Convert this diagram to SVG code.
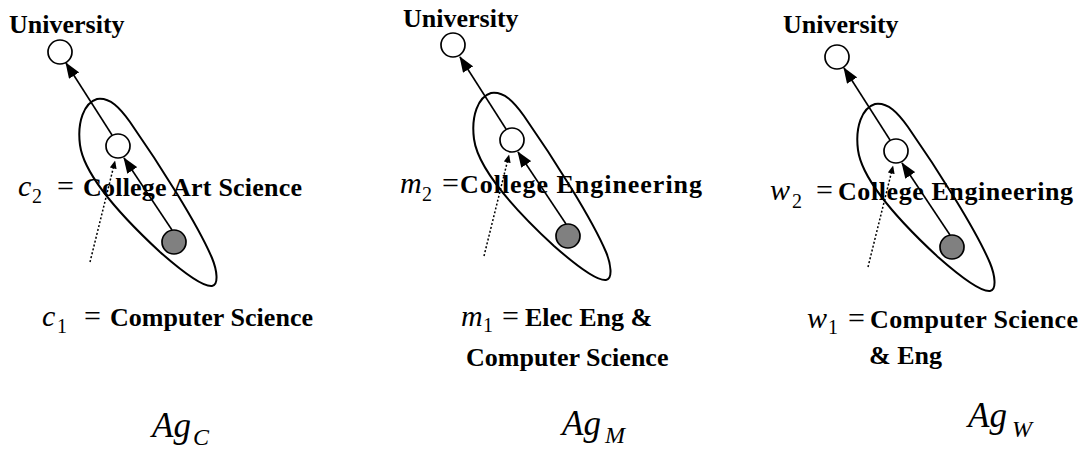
<svg xmlns="http://www.w3.org/2000/svg" xmlns:xlink="http://www.w3.org/1999/xlink" width="1088" height="453" viewBox="0 0 1088 453">
<style>
.node{fill:#fff;stroke:#000;stroke-width:1.7}
.leaf{fill:#808080;stroke:#000;stroke-width:1.7}
.loop{fill:none;stroke:#000;stroke-width:2}
.edge{stroke:#000;stroke-width:1.6;fill:none}
.dot{stroke:#000;stroke-width:1.5;stroke-dasharray:2 2;fill:none}
.lbl{font-family:"Liberation Serif","Times New Roman",serif;font-weight:bold;font-size:26px;fill:#000}
.math{font-family:"Liberation Serif","Times New Roman",serif;font-style:italic;font-size:30px;fill:#000}
.sub{font-family:"Liberation Serif","Times New Roman",serif;font-size:20px;fill:#000}
.eq{font-family:"Liberation Serif","Times New Roman",serif;font-size:30px;fill:#000}
.ag{font-family:"Liberation Serif","Times New Roman",serif;font-style:italic;font-size:35px;fill:#000}
.agsub{font-family:"Liberation Serif","Times New Roman",serif;font-style:italic;font-size:24px;fill:#000}
</style>
<defs>
<marker id="ah" markerUnits="userSpaceOnUse" markerWidth="16" markerHeight="12" viewBox="0 0 16 12" refX="15" refY="6" orient="auto"><path d="M0,0 L16,6 L0,12 z" fill="#000"/></marker>
<marker id="ahs" markerUnits="userSpaceOnUse" markerWidth="8" markerHeight="7" viewBox="0 0 8 7" refX="7.5" refY="3.5" orient="auto"><path d="M0,0 L8,3.5 L0,7 z" fill="#000"/></marker>
<path id="loopShape" d="M97,99 C84,103 77,122 80,145 C84,175 120,215 160,252 C185,274 203,287 212,286 C219,285 217,270 212,258 C198,225 160,165 130,122 C120,108 110,97 97,99 Z"/>
</defs>

<!-- connectors -->
<g id="connectors">
  <g id="conn-c">
    <line class="edge" x1="172" y1="230" x2="124" y2="158" marker-end="url(#ah)"/>
    <line class="edge" x1="112" y1="135" x2="66" y2="63" marker-end="url(#ah)"/>
    <line class="dot" x1="90" y1="262" x2="115" y2="161" marker-end="url(#ahs)"/>
  </g>
  <g id="conn-m" transform="translate(394,-6)">
    <line class="edge" x1="172" y1="230" x2="124" y2="158" marker-end="url(#ah)"/>
    <line class="edge" x1="112" y1="135" x2="66" y2="63" marker-end="url(#ah)"/>
    <line class="dot" x1="90" y1="262" x2="115" y2="161" marker-end="url(#ahs)"/>
  </g>
  <g id="conn-w" transform="translate(778,5)">
    <line class="edge" x1="172" y1="230" x2="124" y2="158" marker-end="url(#ah)"/>
    <line class="edge" x1="112" y1="135" x2="66" y2="63" marker-end="url(#ah)"/>
    <line class="dot" x1="90" y1="262" x2="115" y2="161" marker-end="url(#ahs)"/>
  </g>
</g>

<!-- panel C -->
<g id="panel-c">
  <g id="c-cluster"><use xlink:href="#loopShape" class="loop"/></g>
  <g id="c-university"><circle class="node" cx="60" cy="52" r="12"/></g>
  <g id="c-college"><circle class="node" cx="118" cy="146" r="12"/></g>
  <g id="c-dept"><circle class="leaf" cx="174" cy="242" r="12"/></g>
</g>
<g id="panel-m" transform="translate(394,-6)">
  <g id="m-cluster"><use xlink:href="#loopShape" class="loop"/></g>
  <g id="m-university"><circle class="node" cx="59" cy="51" r="12"/></g>
  <g id="m-college"><circle class="node" cx="118" cy="146" r="12"/></g>
  <g id="m-dept"><circle class="leaf" cx="174" cy="242" r="12"/></g>
</g>
<g id="panel-w" transform="translate(778,5)">
  <g id="w-cluster"><use xlink:href="#loopShape" class="loop"/></g>
  <g id="w-university"><circle class="node" cx="59" cy="52" r="12"/></g>
  <g id="w-college"><circle class="node" cx="118" cy="146" r="12"/></g>
  <g id="w-dept"><circle class="leaf" cx="174" cy="242" r="12"/></g>
</g>

<!-- labels -->
<g id="labels">
  <text class="lbl" x="9" y="33">University</text>
  <text class="lbl" x="403" y="27">University</text>
  <text class="lbl" x="783" y="33">University</text>

  <text class="math" x="18" y="196">c</text><text class="sub" x="32" y="203">2</text><text class="eq" x="57" y="196">=</text>
  <text class="lbl" x="83" y="196" textLength="219" lengthAdjust="spacing">College Art Science</text>

  <text class="math" x="400" y="193">m</text><text class="sub" x="422" y="201">2</text><text class="eq" x="442" y="193">=</text>
  <text class="lbl" x="460" y="193" textLength="242" lengthAdjust="spacing">College Engineering</text>

  <text class="math" x="770" y="200">w</text><text class="sub" x="792" y="208">2</text><text class="eq" x="816" y="200">=</text>
  <text class="lbl" x="838" y="200" textLength="235" lengthAdjust="spacing">College Engineering</text>

  <text class="math" x="42" y="326">c</text><text class="sub" x="57" y="333">1</text><text class="eq" x="84" y="326">=</text>
  <text class="lbl" x="110" y="326" textLength="203" lengthAdjust="spacing">Computer Science</text>

  <text class="math" x="461" y="326">m</text><text class="sub" x="483" y="332">1</text><text class="eq" x="502" y="326">=</text>
  <text class="lbl" x="525" y="326">Elec Eng &amp;</text>
  <text class="lbl" x="466" y="366">Computer Science</text>

  <text class="math" x="807" y="328">w</text><text class="sub" x="828" y="334">1</text><text class="eq" x="848" y="328">=</text>
  <text class="lbl" x="870" y="328" textLength="208" lengthAdjust="spacing">Computer Science</text>
  <text class="lbl" x="869" y="364">&amp; Eng</text>

  <text class="ag" x="152" y="437">Ag</text><text class="agsub" x="193" y="445">C</text>
  <text class="ag" x="562" y="435">Ag</text><text class="agsub" x="605" y="443">M</text>
  <text class="ag" x="968" y="427">Ag</text><text class="agsub" x="1012" y="437">W</text>
</g>
</svg>
